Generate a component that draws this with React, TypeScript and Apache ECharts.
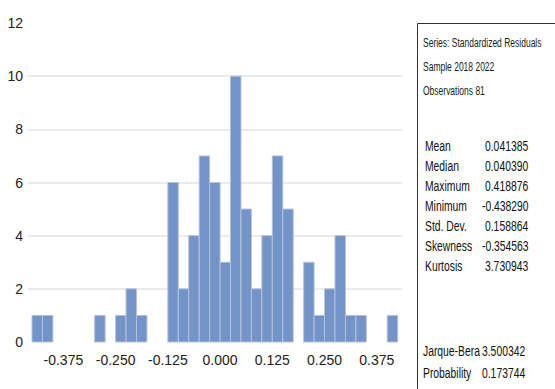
import React, { useEffect, useRef } from "react";
import * as echarts from "echarts";

// Histogram bins (lower / upper edges) and counts
const binLow = [
  -0.45, -0.425, -0.4, -0.375, -0.35, -0.325, -0.3, -0.275, -0.25, -0.225,
  -0.2, -0.175, -0.15, -0.125, -0.1, -0.075, -0.05, -0.025, 0, 0.025,
  0.05, 0.075, 0.1, 0.125, 0.15, 0.175, 0.2, 0.225, 0.25, 0.275,
  0.3, 0.325, 0.35, 0.375, 0.4,
];
const binHigh = [
  -0.425, -0.4, -0.375, -0.35, -0.325, -0.3, -0.275, -0.25, -0.225, -0.2,
  -0.175, -0.15, -0.125, -0.1, -0.075, -0.05, -0.025, 0, 0.025, 0.05,
  0.075, 0.1, 0.125, 0.15, 0.175, 0.2, 0.225, 0.25, 0.275, 0.3,
  0.325, 0.35, 0.375, 0.4, 0.425,
];
const counts = [
  1, 1, 0, 0, 0, 0, 1, 0, 1, 2, 1, 0, 0, 6, 2, 4, 7, 6, 3, 10, 5, 2, 4, 7, 5,
  0, 3, 1, 2, 4, 1, 1, 0, 0, 1,
];
const xTickLabels = [-0.375, -0.25, -0.125, 0, 0.125, 0.25, 0.375];

const headerLines = [
  "Series: Standardized Residuals",
  "Sample 2018 2022",
  "Observations 81",
];
const statNames = ["Mean", "Median", "Maximum", "Minimum", "Std. Dev.", "Skewness", "Kurtosis"];
const statValues = ["0.041385", "0.040390", "0.418876", "-0.438290", "0.158864", "-0.354563", "3.730943"];
const testNames = ["Jarque-Bera", "Probability"];
const testValues = ["3.500342", "0.173744"];

const FONT = '"Liberation Sans", Arial, sans-serif';

export default function App() {
  const ref = useRef<HTMLDivElement>(null);
  useEffect(() => {
    if (!ref.current) return;
    const chart = echarts.init(ref.current, undefined, { renderer: "svg" });

    const data = counts
      .map((c, i) => [binLow[i], binHigh[i], c])
      .filter((d) => d[2] > 0);

    const graphics: any[] = [
      {
        type: "rect",
        shape: { x: 417.5, y: 23.5, width: 200, height: 400 },
        style: { fill: "none", stroke: "#333", lineWidth: 1 },
        silent: true,
      },
    ];
    const headerY = [42, 66, 90];
    headerLines.forEach((t, i) => {
      graphics.push({
        type: "text",
        x: 423,
        y: headerY[i],
        scaleX: 0.63,
        style: { text: t, font: `13.5px ${FONT}`, fill: "#1a1a1a", verticalAlign: "middle", align: "left" },
      });
    });
    const statY = [146, 166, 186, 206, 226, 246, 266];
    const statScale = 0.69;
    const statFont = `15px ${FONT}`;
    statNames.forEach((t, i) => {
      graphics.push({
        type: "text",
        x: 425,
        y: statY[i],
        scaleX: statScale,
        style: { text: t, font: statFont, fill: "#111", verticalAlign: "middle", align: "left" },
      });
      const neg = statValues[i].startsWith("-");
      graphics.push({
        type: "text",
        x: neg ? 482 : 485,
        y: statY[i],
        scaleX: statScale,
        style: { text: statValues[i], font: statFont, fill: "#111", verticalAlign: "middle", align: "left" },
      });
    });
    const testY = [351, 373];
    testNames.forEach((t, i) => {
      graphics.push({
        type: "text",
        x: 423,
        y: testY[i],
        scaleX: statScale,
        style: { text: t, font: statFont, fill: "#111", verticalAlign: "middle", align: "left" },
      });
      graphics.push({
        type: "text",
        x: 482,
        y: testY[i],
        scaleX: statScale,
        style: { text: testValues[i], font: statFont, fill: "#111", verticalAlign: "middle", align: "left" },
      });
    });

    chart.setOption({
      animation: false,
      backgroundColor: "#ffffff",
      grid: { left: 28, right: 153, top: 23, bottom: 47, containLabel: false },
      xAxis: {
        type: "value",
        min: -0.4596,
        max: 0.4353,
        axisLine: { show: false },
        axisTick: { show: false },
        splitLine: { show: false },
        axisLabel: {
          customValues: xTickLabels,
          formatter: (v: number) => v.toFixed(3),
          fontFamily: FONT,
          fontSize: 14,
          color: "#222",
          margin: 11,
        },
      },
      yAxis: {
        type: "value",
        min: 0,
        max: 12,
        interval: 2,
        axisLine: { show: false },
        axisTick: { show: false },
        splitLine: {
          show: true,
          showMinLine: false,
          showMaxLine: false,
          lineStyle: { color: "#e4e4e4", width: 1.5 },
        },
        axisLabel: {
          fontFamily: FONT,
          fontSize: 14,
          color: "#222",
          margin: 5,
        },
      },
      series: [
        {
          type: "custom",
          data,
          encode: { x: [0, 1], y: 2 },
          renderItem: (params: any, api: any) => {
            const lo = api.value(0);
            const hi = api.value(1);
            const c = api.value(2);
            const p0 = api.coord([lo, 0]);
            const p1 = api.coord([hi, c]);
            return {
              type: "rect",
              shape: { x: p0[0], y: p1[1], width: p1[0] - p0[0], height: p0[1] - p1[1] },
              style: { fill: "#7294C9", stroke: "#b9c1d0", lineWidth: 1 },
            };
          },
        },
      ],
      graphic: graphics,
    });
    return () => chart.dispose();
  }, []);
  return (
    <div
      ref={ref}
      style={{ position: "absolute", left: 0, top: 0, width: 555, height: 389 }}
    />
  );
}
